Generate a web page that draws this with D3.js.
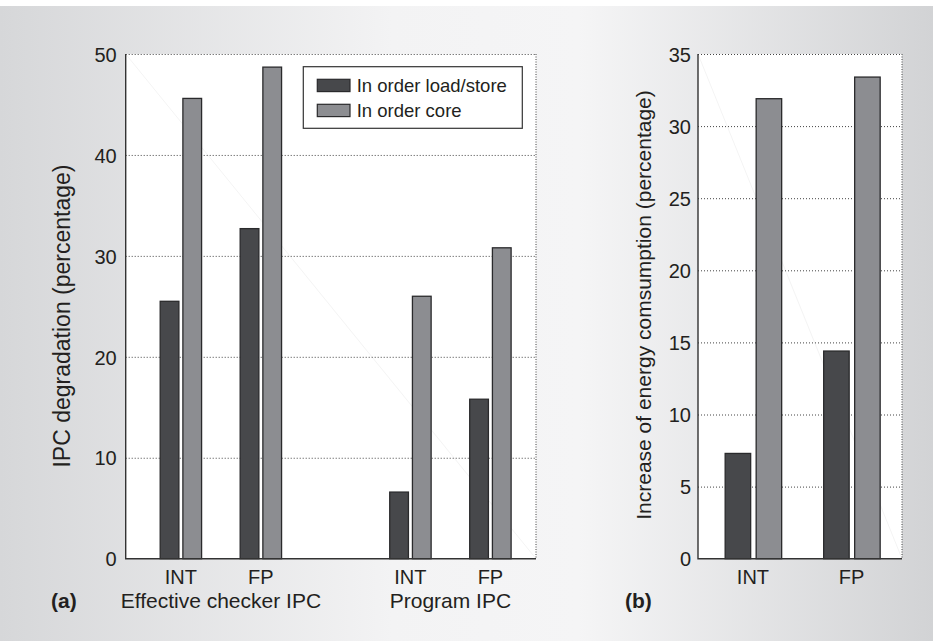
<!DOCTYPE html>
<html>
<head>
<meta charset="utf-8">
<script src="https://cdn.jsdelivr.net/npm/d3@7"></script>
<style>
  body { margin: 0; background: #fff; }
  svg text { font-family: "Liberation Sans", Arial, sans-serif; fill: #231f20; }
</style>
</head>
<body>
<script>
// values
var seriesNames = ["In order load/store", "In order core"];
var groupNamesA = ["Effective checker IPC", "Program IPC"];
var catsA = ["INT", "FP", "INT", "FP"];
var loadStoreA = [25.5, 32.7, 6.6, 15.8];
var coreA = [45.6, 48.7, 26.0, 30.8];
var ticksA = [0, 10, 20, 30, 40, 50];

var catsB = ["INT", "FP"];
var loadStoreB = [7.3, 14.4];
var coreB = [31.9, 33.4];
var ticksB = [0, 5, 10, 15, 20, 25, 30, 35];

window.onload = function(){

    var w = 933, h = 641;
    var darkFill = "#47484b", lightFill = "#8c8d91", barStroke = "#2a2a2c";

    var svg = d3.select("body")
        .append("svg")
        .attr("width", w)
        .attr("height", h);

    var grad = svg.append("defs").append("linearGradient")
        .attr("id", "bg")
        .attr("x1", "0%").attr("x2", "100%")
        .attr("y1", "0%").attr("y2", "0%");
    [["0%", "#d6d7d9"], ["42%", "#f3f3f4"], ["62%", "#f5f5f6"], ["100%", "#d2d3d5"]].forEach(function(s){
        grad.append("stop").attr("offset", s[0]).attr("stop-color", s[1]);
    });

    svg.append("rect")
        .attr("x", 0).attr("y", 6)
        .attr("width", w).attr("height", h - 6)
        .style("fill", "url(#bg)");

    // one panel: frame, grid, ticks, bars
    function panel(opt){
        var x = d3.scaleLinear().domain(opt.xDomain).range([opt.left, opt.right]);
        var y = d3.scaleLinear().domain([0, opt.ticks[opt.ticks.length - 1]]).range([opt.bottom, opt.top]);

        var g = svg.append("g");

        g.append("rect")
            .attr("x", opt.left).attr("y", opt.top)
            .attr("width", opt.right - opt.left)
            .attr("height", opt.bottom - opt.top)
            .style("fill", "#fff");

        // faint diagonal artefact
        g.append("line")
            .attr("x1", opt.left).attr("y1", opt.top)
            .attr("x2", opt.right).attr("y2", opt.bottom)
            .style("stroke", "#f4f4f4")
            .style("stroke-width", 1);

        var grid = g.append("g")
            .attr("transform", "translate(" + opt.left + ",0)")
            .call(d3.axisLeft(y).tickValues(opt.ticks.slice(1)).tickSize(-(opt.right - opt.left)).tickFormat(""));
        grid.select(".domain").remove();
        grid.selectAll("line")
            .style("stroke", "#444")
            .style("stroke-width", 1)
            .style("stroke-dasharray", "1,2");

        g.append("line")
            .attr("x1", opt.right).attr("x2", opt.right)
            .attr("y1", opt.top).attr("y2", opt.bottom)
            .style("stroke", "#444")
            .style("stroke-dasharray", "1,1.5");

        var yAxis = g.append("g")
            .attr("transform", "translate(" + opt.left + ",0)")
            .call(d3.axisLeft(y).tickValues(opt.ticks).tickSize(0).tickPadding(opt.pad));
        yAxis.select(".domain").remove();
        yAxis.selectAll("text")
            .style("font-size", "20px")
            .attr("dy", "0.36em");

        g.selectAll(".dark")
            .data(opt.dark)
            .enter()
            .append("rect")
            .attr("x", function(d, i){ return x(opt.slot(i)) - opt.barOut; })
            .attr("y", function(d){ return y(d); })
            .attr("width", opt.barOut - opt.barIn)
            .attr("height", function(d){ return y(0) - y(d); })
            .style("fill", darkFill)
            .style("stroke", barStroke)
            .style("stroke-width", 1.3);

        g.selectAll(".light")
            .data(opt.light)
            .enter()
            .append("rect")
            .attr("x", function(d, i){ return x(opt.slot(i)) + opt.barIn2; })
            .attr("y", function(d){ return y(d); })
            .attr("width", opt.barOut - opt.barIn)
            .attr("height", function(d){ return y(0) - y(d); })
            .style("fill", lightFill)
            .style("stroke", barStroke)
            .style("stroke-width", 1.3);

        // solid left and bottom axes
        g.append("path")
            .attr("d", "M" + opt.left + "," + opt.top + "V" + opt.bottom + "H" + opt.right)
            .style("fill", "none")
            .style("stroke", "#333")
            .style("stroke-width", 1.4);

        g.selectAll(".cat")
            .data(opt.cats)
            .enter()
            .append("text")
            .attr("x", function(d, i){ return x(opt.slot(i)); })
            .attr("y", 584)
            .attr("text-anchor", "middle")
            .style("font-size", "20px")
            .text(function(d){ return d; });

        g.append("text")
            .attr("transform", "translate(" + opt.labelX + "," + opt.labelY + ") rotate(-90)")
            .attr("text-anchor", "middle")
            .style("font-size", opt.labelSize)
            .text(opt.label);

        return x;
    }

    // panel (a): two groups of two categories, with a gap between groups
    var slotA = function(i){ return i + Math.floor(i / 2) * 0.87; };
    var xa = panel({
        left: 125.7, right: 536, top: 54, bottom: 558.7,
        xDomain: [-0.69, 4.44], ticks: ticksA, pad: 9,
        dark: loadStoreA, light: coreA, cats: catsA, slot: slotA,
        barOut: 20.7, barIn: 2, barIn2: 2,
        label: "IPC degradation (percentage)", labelX: 70, labelY: 316, labelSize: "23px"
    });

    svg.selectAll(".group")
        .data(groupNamesA)
        .enter()
        .append("text")
        .attr("x", function(d, i){ return (xa(slotA(2 * i)) + xa(slotA(2 * i + 1))) / 2; })
        .attr("y", 608)
        .attr("text-anchor", "middle")
        .style("font-size", "21px")
        .text(function(d){ return d; });

    // panel (b)
    panel({
        left: 698, right: 902, top: 54, bottom: 558.7,
        xDomain: [-0.558, 1.513], ticks: ticksB, pad: 7,
        dark: loadStoreB, light: coreB, cats: catsB, slot: function(i){ return i; },
        barOut: 27.8, barIn: 2.3, barIn2: 3.2,
        label: "Increase of energy comsumption (percentage)", labelX: 651, labelY: 305, labelSize: "21px"
    });

    svg.append("text")
        .attr("x", 51).attr("y", 608)
        .style("font-size", "21px")
        .style("font-weight", "bold")
        .text("(a)");

    svg.append("text")
        .attr("x", 625).attr("y", 608)
        .style("font-size", "21px")
        .style("font-weight", "bold")
        .text("(b)");

    // legend
    var legend = svg.append("g");
    legend.append("rect")
        .attr("x", 303.3).attr("y", 66.7)
        .attr("width", 219).attr("height", 61.6)
        .style("fill", "#fff")
        .style("stroke", "#333")
        .style("stroke-width", 1.2);

    var items = legend.selectAll(".item")
        .data(seriesNames)
        .enter()
        .append("g")
        .attr("transform", function(d, i){ return "translate(317.3," + (79.3 + i * 25) + ")"; });

    items.append("rect")
        .attr("width", 32.7).attr("height", 12.3)
        .style("fill", function(d, i){ return i === 0 ? darkFill : lightFill; })
        .style("stroke", barStroke)
        .style("stroke-width", 1.2);

    items.append("text")
        .attr("x", 39.4).attr("y", 12.6)
        .style("font-size", "18.5px")
        .text(function(d){ return d; });
};
</script>
</body>
</html>
